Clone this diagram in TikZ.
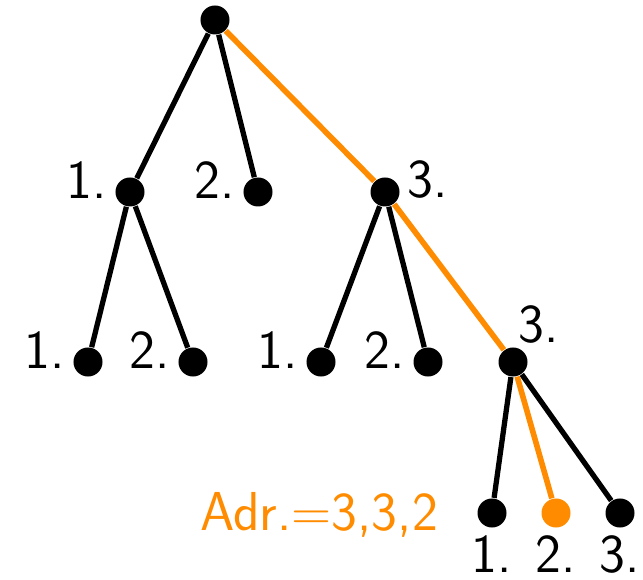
\documentclass[tikz,border=0pt]{standalone}
\usepackage{xcolor}
\usetikzlibrary{positioning}
\definecolor{adrorange}{HTML}{FF8C00}
\tikzset{
  dot/.style={circle, fill=black, inner sep=0pt, minimum size=0.29cm},
  adrdot/.style={dot, fill=adrorange},
  edge/.style={draw=black, line width=1.5pt},
  adredge/.style={draw=adrorange, line width=1.6pt},
  lbl/.style={font=\sffamily\fontsize{15.6}{18}\selectfont, inner sep=1pt}
}
\begin{document}
\begin{tikzpicture}[x=0.01cm, y=-0.01cm]
  \useasboundingbox (0,0) rectangle (643,580);

  \node[dot] (root) at (215,20) {};

  \node[dot, label={[lbl, yshift=0.12cm, label distance=1pt]left:1.}] (n1) at (130,192) {};
  \node[dot, label={[lbl, yshift=0.12cm, label distance=1pt]left:2.}] (n2) at (258,192) {};
  \node[dot, label={[lbl, yshift=0.12cm, label distance=1pt]right:3.}] (n3) at (385,192) {};

  \node[dot, label={[lbl, yshift=0.12cm, label distance=1pt]left:1.}] (n11) at (88,362) {};
  \node[dot, label={[lbl, yshift=0.12cm, label distance=1pt]left:2.}] (n12) at (193,362) {};
  \node[dot, label={[lbl, yshift=0.12cm, label distance=1pt]left:1.}] (n31) at (321,362) {};
  \node[dot, label={[lbl, yshift=0.12cm, label distance=1pt]left:2.}] (n32) at (428,362) {};
  \node[dot, label={[lbl, xshift=-0.03cm, yshift=0.07cm, label distance=-2pt]60:3.}] (n33) at (513,362) {};

  \node[dot, label={[lbl, label distance=1pt]below:1.}] (n331) at (492,513) {};
  \node[adrdot, label={[lbl, label distance=1pt]below:2.}] (n332) at (556,513) {};
  \node[dot, label={[lbl, label distance=1pt]below:3.}] (n333) at (620,513) {};

  \node[lbl, text=adrorange, anchor=east] (adr) at (442,515) {Adr.=3,3,2};

  \draw[edge] (root) -- (n1);
  \draw[edge] (root) -- (n2);
  \draw[edge] (n1) -- (n11);
  \draw[edge] (n1) -- (n12);
  \draw[edge] (n3) -- (n31);
  \draw[edge] (n3) -- (n32);
  \draw[edge] (n33) -- (n331);
  \draw[edge] (n33) -- (n333);
  \draw[adredge] (root) -- (n3);
  \draw[adredge] (n3) -- (n33);
  \draw[adredge] (n33) -- (n332);
\end{tikzpicture}
\end{document}
